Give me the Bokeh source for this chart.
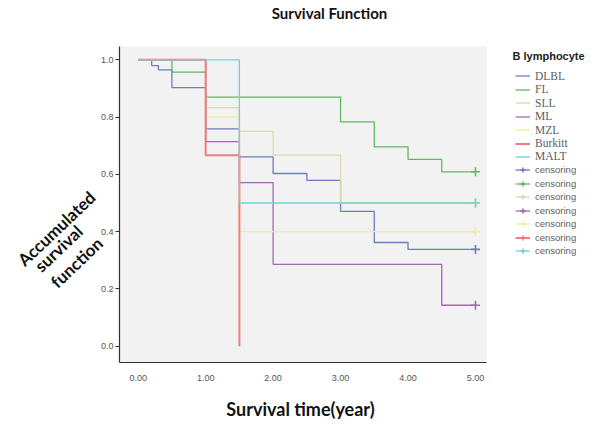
from bokeh.plotting import figure
from bokeh.models import (Label, Legend, LegendItem, Range1d, FixedTicker,
                          CustomJSTickFormatter, BoxAnnotation)
from bokeh.embed import file_html
from bokeh.resources import INLINE

# ---- data ----
groups = ["DLBL", "FL", "SLL", "ML", "MZL", "Burkitt", "MALT"]
colors = ["#6f7dbd", "#5fb862", "#dcdaae", "#a06aae", "#f2ee98", "#f07c7c", "#72d2cf"]

dlbl_t = [0, 0.2, 0.3, 0.5, 1.0, 1.5, 2.0, 2.5, 3.0, 3.5, 4.0, 5.0]
dlbl_s = [1, 0.98, 0.965, 0.903, 0.759, 0.661, 0.603, 0.579, 0.471, 0.362, 0.338, 0.338]
fl_t = [0, 0.5, 1.0, 3.0, 3.5, 4.0, 4.5, 5.0]
fl_s = [1, 0.957, 0.870, 0.783, 0.696, 0.652, 0.609, 0.609]
sll_t = [0, 1.0, 1.5, 2.0, 3.0, 5.0]
sll_s = [1, 0.833, 0.75, 0.667, 0.5, 0.5]
ml_t = [0, 1.0, 1.5, 2.0, 4.5, 5.0]
ml_s = [1, 0.714, 0.571, 0.286, 0.143, 0.143]
mzl_t = [0, 1.0, 1.5, 5.0]
mzl_s = [1, 0.8, 0.4, 0.4]
burkitt_t = [0, 1.0, 1.5]
burkitt_s = [1, 0.667, 0.0]
malt_t = [0, 1.5, 5.0]
malt_s = [1, 0.5, 0.5]

# censored observations (time, survival) per group; NaN = no censored case shown
NAN = float("nan")
censor_t = {"DLBL": [5.0], "FL": [5.0], "SLL": [5.0], "ML": [5.0], "MZL": [5.0], "Burkitt": [NAN], "MALT": [5.0]}
censor_s = {"DLBL": [0.338], "FL": [0.609], "SLL": [0.5], "ML": [0.143], "MZL": [0.4], "Burkitt": [NAN], "MALT": [0.5]}

x_ticks = [0, 1, 2, 3, 4, 5]
y_ticks = [0.0, 0.2, 0.4, 0.6, 0.8, 1.0]

title_text = "Survival Function"
xlabel_text = "Survival time(year)"
ylabel_lines = ["Accumulated", "survival", "function"]
legend_title = "B lymphocyte"
censor_label = "censoring"

curves = {
    "DLBL": (dlbl_t, dlbl_s), "FL": (fl_t, fl_s), "SLL": (sll_t, sll_s), "ML": (ml_t, ml_s),
    "MZL": (mzl_t, mzl_s), "Burkitt": (burkitt_t, burkitt_s), "MALT": (malt_t, malt_s),
}

# ---- geometry (pixel mapping of the canvas) ----
W, H = 592, 424
X0PX, XUNIT = 137.7, 67.46      # px of t=0, px per year
Y0PX, YUNIT = 345.7, 286.4      # px of S=0, px per unit survival


def dx(px):
    return (px - X0PX) / XUNIT


def dy_(py):
    return (Y0PX - py) / YUNIT


area_l, area_r, area_b, area_t = dx(119), dx(486), dy_(362), dy_(46)

p = figure(width=W, height=H, output_backend="svg", toolbar_location=None,
           x_range=Range1d(dx(0), dx(W)), y_range=Range1d(dy_(H), dy_(0)),
           min_border=0, min_border_left=0, min_border_right=0,
           min_border_top=0, min_border_bottom=0)
p.title.visible = False
p.background_fill_color = "white"
p.border_fill_color = "white"
p.outline_line_color = None
p.grid.visible = False

p.add_layout(BoxAnnotation(left=area_l, right=area_r, bottom=area_b, top=area_t,
                           fill_color="#f2f2f2", fill_alpha=1, line_color=None,
                           level="underlay"))

p.xaxis.ticker = FixedTicker(ticks=x_ticks)
p.yaxis.ticker = FixedTicker(ticks=y_ticks)
p.xaxis.formatter = CustomJSTickFormatter(code="return tick.toFixed(2)")
p.yaxis.formatter = CustomJSTickFormatter(code="return tick.toFixed(1)")
p.xaxis.fixed_location = area_b
p.yaxis.fixed_location = area_l
p.xaxis.bounds = (area_l, area_r)
p.yaxis.bounds = (area_b, area_t)
for ax in (p.xaxis, p.yaxis):
    ax.axis_line_color = "#333333"
    ax.axis_line_width = 1.2
    ax.major_label_text_font = "Liberation Sans"
    ax.major_label_text_font_size = "9px"
    ax.major_label_text_color = "#555555"
    ax.minor_tick_line_color = None
    ax.major_tick_line_color = "#333333"
p.xaxis.major_tick_out = 0
p.xaxis.major_tick_in = 0
p.xaxis.major_label_standoff = 12
p.yaxis.major_tick_out = 4
p.yaxis.major_tick_in = 0
p.yaxis.major_label_standoff = 2

step_r = {}
for g, c in zip(groups, colors):
    t, s = curves[g]
    w = 2 if g == "Burkitt" else 1.3
    step_r[g] = p.step(t, s, mode="after", line_color=c, line_width=w)

cens_r = {}
for g, c in zip(groups, colors):
    cens_r[g] = p.scatter(censor_t[g], censor_s[g], marker="cross", size=9,
                          line_color=c, line_width=1.6)

# ---- legends (one item each, exact placement) ----
LX, LDY = 515, 12   # legend anchor (px) and empirical vertical correction


def add_item(label, renderers, center_y, font, size):
    vy = H - (center_y + LDY - 6.5)
    lg = Legend(items=[LegendItem(label=label, renderers=renderers)],
                location=(LX, vy), padding=0, margin=0, spacing=0,
                glyph_width=15, glyph_height=13, label_height=13, label_standoff=5,
                border_line_color=None, background_fill_alpha=0,
                label_text_font=font, label_text_font_size=size, label_text_color="#606060")
    p.add_layout(lg, "center")


y0, dyy = 76.7, 13.46
for i, g in enumerate(groups):
    add_item(g, [step_r[g]], y0 + dyy * i, "Liberation Serif", "11.5px")
for i, g in enumerate(groups):
    add_item(censor_label, [step_r[g], cens_r[g]], y0 + dyy * (7 + i), "Liberation Sans", "9.5px")

# ---- texts ----
p.add_layout(Label(x=dx(329), y=dy_(12), text=title_text, text_font="Lato", text_font_style="bold",
                   text_font_size="15px", text_align="center", text_baseline="middle", text_color="#111111"))
p.add_layout(Label(x=dx(300), y=dy_(408), text=xlabel_text, text_font="Lato", text_font_style="bold",
                   text_font_size="18px", text_align="center", text_baseline="middle", text_color="#111111"))
for txt, (cx, cy) in zip(ylabel_lines, [(56, 228), (58, 248), (76, 262)]):
    p.add_layout(Label(x=dx(cx), y=dy_(cy), text=txt, text_font="Lato", text_font_style="bold",
                       text_font_size="17px", text_align="center", text_baseline="middle",
                       angle=0.76, text_color="#111111"))
p.add_layout(Label(x=dx(512), y=dy_(55), text=legend_title, text_font="Liberation Sans",
                   text_font_style="bold", text_font_size="11px", text_align="left",
                   text_baseline="middle", text_color="#222222"))

open("out.html", "w").write(file_html(p, INLINE))
